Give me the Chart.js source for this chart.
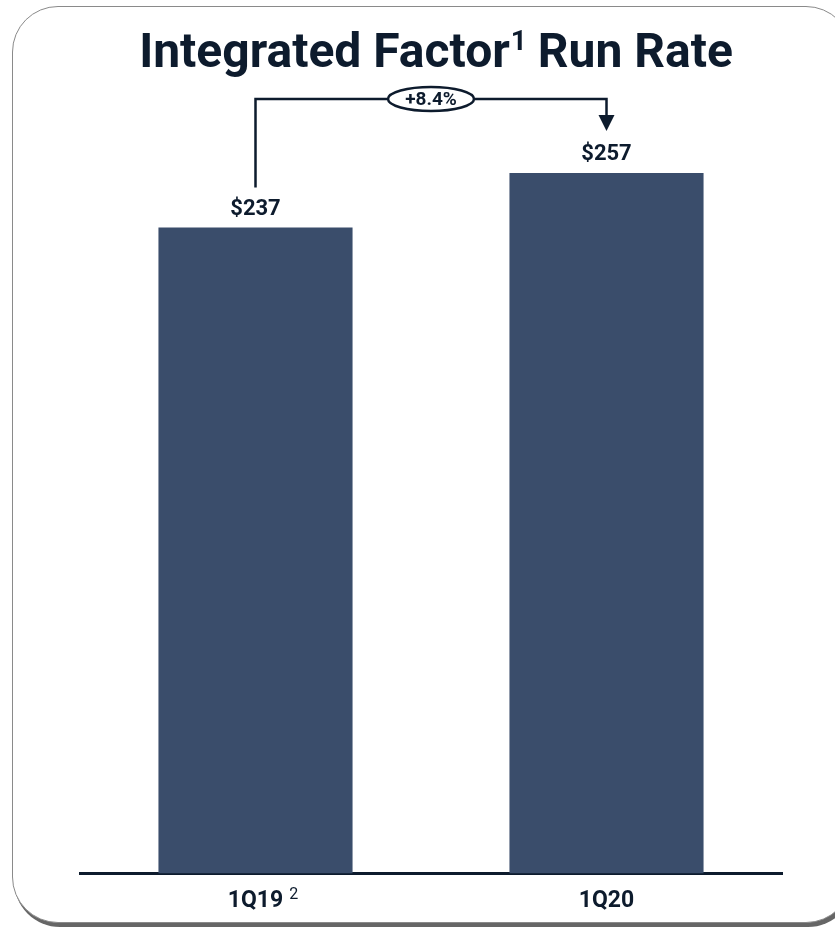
<!DOCTYPE html>
<html>
<head>
<meta charset="utf-8">
<title>Integrated Factor Run Rate</title>
<script src="https://cdn.jsdelivr.net/npm/chart.js@4/dist/chart.umd.min.js"></script>
<style>
    html, body { margin: 0; padding: 0; background: #ffffff; }
    body { width: 835px; height: 930px; position: relative; overflow: hidden; }
    .card {
        position: absolute; left: 12px; top: 6px;
        width: 840px; height: 917px;
        box-sizing: border-box;
        border: 1.5px solid #8a8a8a;
        border-radius: 46px;
        box-shadow: 2px 4px 0 #666666;
        background: #ffffff;
    }
    #chart { position: absolute; left: 0; top: 0; }
</style>
</head>
<body>
<div class="card"></div>
<canvas id="chart" width="835" height="930"></canvas>
<script>
// дані графіка
const categories = ['1Q19', '1Q20'];
const runRate = [237, 257];
const valueLabels = ['$237', '$257'];
const footnotes = ['2', ''];
const changeLabel = '+8.4%';
const titleParts = ['Integrated Factor', '1', ' Run Rate'];

const navy = '#0d1b2d';
const barColor = '#3a4d6b';

// заголовок з верхнім індексом, підписи над стовпцями, виноска та стрілка зміни
const annotationsPlugin = {
    id: 'annotations',
    afterDraw(chart) {
        const ctx = chart.ctx;
        const meta = chart.getDatasetMeta(0);
        const xScale = chart.scales.x;
        const area = chart.chartArea;
        ctx.save();

        // заголовок
        ctx.fillStyle = navy;
        ctx.textBaseline = 'alphabetic';
        ctx.textAlign = 'left';
        const bigFont = 'bold 48px Roboto';
        const supFont = 'bold 28px Roboto';
        ctx.font = bigFont;
        const w0 = ctx.measureText(titleParts[0]).width;
        const w2 = ctx.measureText(titleParts[2]).width;
        ctx.font = supFont;
        const w1 = ctx.measureText(titleParts[1]).width;
        let tx = (area.left + area.right) / 2 + 5 - (w0 + w1 + w2) / 2;
        const baseY = 67;
        ctx.font = bigFont;
        ctx.fillText(titleParts[0], tx, baseY);
        tx += w0 + 1;
        ctx.font = supFont;
        ctx.fillText(titleParts[1], tx, baseY - 17);
        tx += w1 - 1;
        ctx.font = bigFont;
        ctx.fillText(titleParts[2], tx, baseY);

        // значення над стовпцями
        ctx.font = 'bold 22px Roboto';
        ctx.textAlign = 'center';
        ctx.textBaseline = 'middle';
        meta.data.forEach((bar, i) => {
            ctx.fillText(valueLabels[i], bar.x, bar.y - 18);
        });

        // виноски до підписів осі
        categories.forEach((cat, i) => {
            if (!footnotes[i]) return;
            ctx.font = 'bold 23px Roboto';
            const w = ctx.measureText(cat).width;
            const x = xScale.getPixelForValue(i) + w / 2 + 6;
            ctx.font = '16px Roboto';
            ctx.textAlign = 'left';
            ctx.fillText(footnotes[i], x, area.bottom + 22);
        });

        // скоба зі стрілкою
        const a = meta.data[0], b = meta.data[1];
        const topY = Math.min(a.y, b.y) - 74;
        const startY = a.y - 40;
        const tipY = b.y - 42;
        ctx.strokeStyle = navy;
        ctx.lineWidth = 2.5;
        ctx.beginPath();
        ctx.moveTo(a.x, startY);
        ctx.lineTo(a.x, topY);
        ctx.lineTo(b.x, topY);
        ctx.lineTo(b.x, tipY - 14);
        ctx.stroke();
        ctx.fillStyle = navy;
        ctx.beginPath();
        ctx.moveTo(b.x - 8, tipY - 16);
        ctx.lineTo(b.x + 8, tipY - 16);
        ctx.lineTo(b.x, tipY);
        ctx.closePath();
        ctx.fill();

        const midX = (a.x + b.x) / 2;
        ctx.beginPath();
        ctx.ellipse(midX, topY, 43, 12, 0, 0, Math.PI * 2);
        ctx.fillStyle = '#ffffff';
        ctx.fill();
        ctx.lineWidth = 2.5;
        ctx.stroke();
        ctx.fillStyle = navy;
        ctx.font = 'bold 19px Roboto';
        ctx.textAlign = 'center';
        ctx.fillText(changeLabel, midX, topY + 1);

        ctx.restore();
    }
};

new Chart(document.getElementById('chart'), {
    type: 'bar',
    data: {
        labels: categories,
        datasets: [{
            data: runRate,
            backgroundColor: barColor,
            borderWidth: 0,
            barPercentage: 0.553,
            categoryPercentage: 1
        }]
    },
    options: {
        responsive: false,
        animation: false,
        layout: { padding: { left: 80, right: 53, top: 83, bottom: 1 } },
        plugins: {
            legend: { display: false },
            tooltip: { enabled: false },
            title: { display: false }
        },
        scales: {
            x: {
                z: 1,
                grid: { display: false, drawTicks: false },
                border: { display: true, color: navy, width: 3 },
                ticks: {
                    color: navy,
                    padding: 14,
                    font: { family: 'Roboto', size: 23, weight: 'bold' }
                }
            },
            y: {
                display: false,
                min: 0,
                max: 290
            }
        }
    },
    plugins: [annotationsPlugin]
});
</script>
</body>
</html>
